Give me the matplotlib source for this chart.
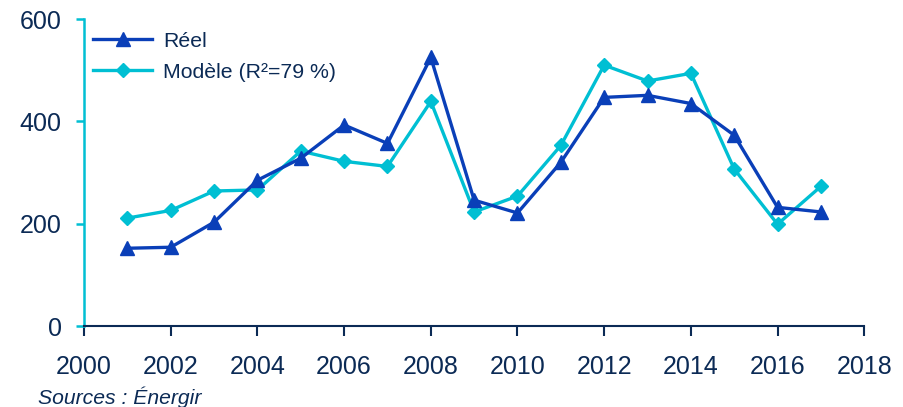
import matplotlib
matplotlib.use("Agg")
import matplotlib.pyplot as plt

plt.rcParams["font.family"] = ["Liberation Sans", "DejaVu Sans"]

years = list(range(2001, 2018))
reel = [152, 154, 203, 285, 328, 393, 357, 525, 246, 221,
        320, 447, 451, 435, 373, 232, 223]
modele = [211, 226, 264, 266, 342, 322, 312, 439, 223, 254,
          353, 510, 479, 494, 307, 199, 273]

xticks = list(range(2000, 2019, 2))
yticks = [0, 200, 400, 600]

dark_blue = "#0a3fb8"
cyan = "#00bfd3"
navy = "#0b2a55"

fig = plt.figure(figsize=(9.04, 4.07), dpi=100)
ax = fig.add_axes([0.093, 0.199, 0.863, 0.754])

ax.plot(years, reel, color=dark_blue, lw=2.4, marker="^", ms=10,
        label="Réel", zorder=3)
ax.plot(years, modele, color=cyan, lw=2.4, marker="D", ms=7.5,
        label="Modèle (R²=79 %)", zorder=2)

ax.set_xlim(2000, 2018)
ax.set_ylim(0, 600)
ax.set_xticks(xticks)
ax.set_yticks(yticks)

for side in ["top", "right"]:
    ax.spines[side].set_visible(False)
ax.spines["left"].set_color(cyan)
ax.spines["left"].set_linewidth(1.8)
ax.spines["bottom"].set_color(navy)
ax.spines["bottom"].set_linewidth(1.5)

ax.tick_params(axis="y", colors=cyan, length=6, width=1.8, pad=10,
               labelcolor=navy, labelsize=18)
ax.tick_params(axis="x", colors=navy, length=7, width=1.5, pad=14,
               labelcolor=navy, labelsize=18)

leg = ax.legend(loc="upper left", frameon=False, fontsize=15.3,
                handlelength=2.8, handletextpad=0.5, borderaxespad=0.2,
                bbox_to_anchor=(-0.005, 1.0), labelspacing=0.55)
for t in leg.get_texts():
    t.set_color(navy)

fig.text(0.042, 0.025, "Sources : Énergir", fontsize=15.2, style="italic",
         color=navy, va="center")

fig.savefig("out.png", dpi=100)
